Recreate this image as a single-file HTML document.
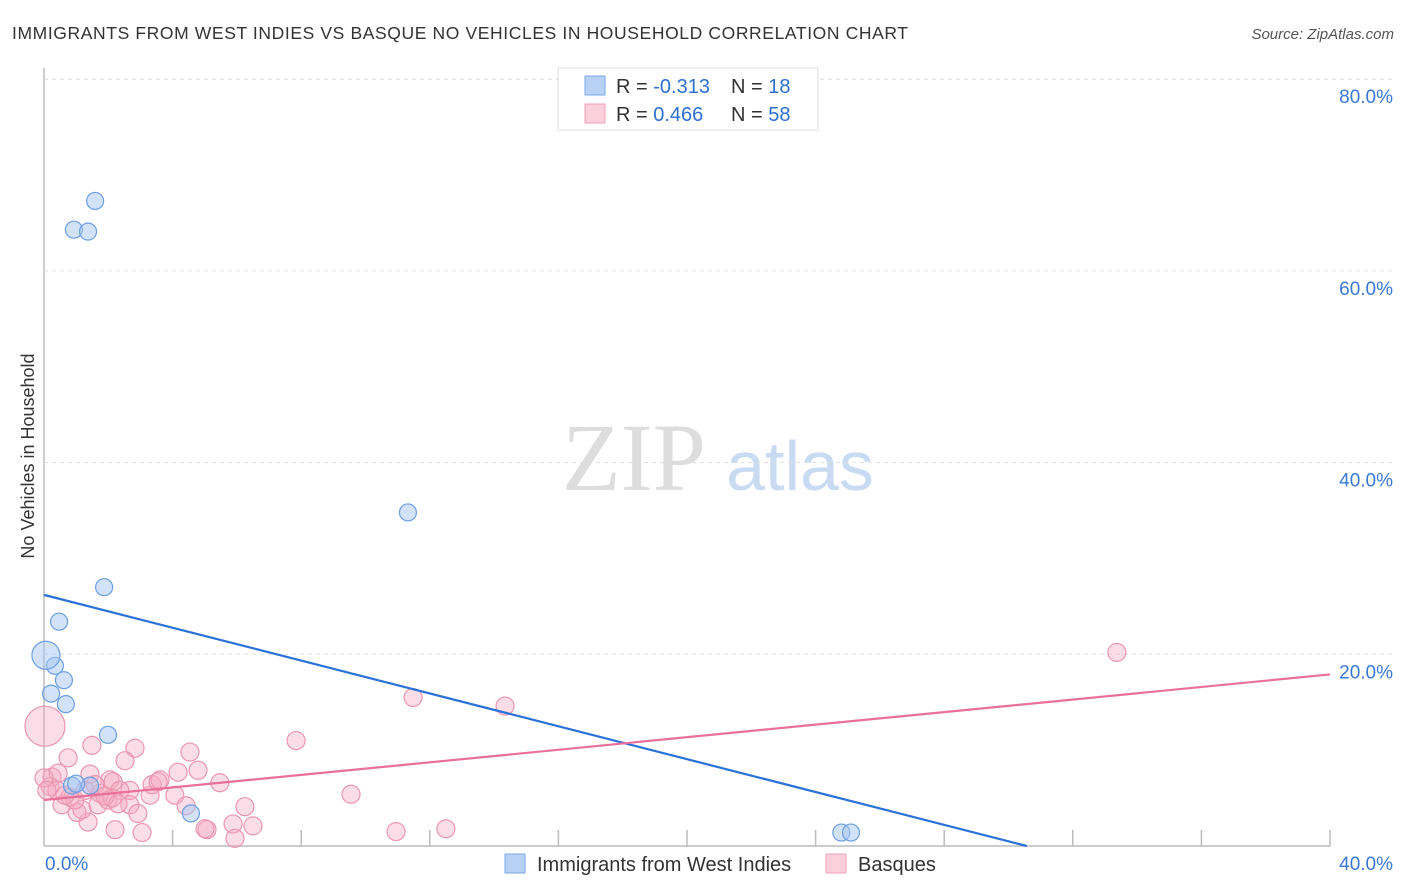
<!DOCTYPE html>
<html><head><meta charset="utf-8"><style>
body{margin:0;background:#fff;font-family:"Liberation Sans",sans-serif;}
#wrap{position:relative;width:1406px;height:892px;overflow:hidden}
</style></head><body>
<div id="wrap">
<svg id="svg" width="1406" height="892" xmlns="http://www.w3.org/2000/svg">
<text x="12" y="39" font-size="17.5" fill="#333" textLength="896" lengthAdjust="spacing">IMMIGRANTS FROM WEST INDIES VS BASQUE NO VEHICLES IN HOUSEHOLD CORRELATION CHART</text>
<text x="1394" y="39" font-size="15" fill="#555" font-style="italic" text-anchor="end">Source: ZipAtlas.com</text>
<text x="34" y="456" font-size="18" fill="#333" text-anchor="middle" transform="rotate(-90 34 456)">No Vehicles in Household</text>
<text x="634" y="490" font-size="96" fill="#ddd" font-family="Liberation Serif,serif" text-anchor="middle">ZIP</text>
<text x="800" y="490" font-size="70" fill="#c9dbf3" text-anchor="middle">atlas</text>
<g id="grid"></g><g id="marks"></g><g id="lines"></g>
<g>
<rect x="558" y="68" width="260" height="62" fill="#fff" stroke="#ddd"/>
<rect x="585" y="76" width="20" height="19" fill="#b8d2f5" stroke="#7aaae8"/>
<rect x="585" y="104" width="20" height="19" fill="#fccfdc" stroke="#eea0b8"/>
<text x="616" y="93" font-size="20" fill="#333">R = <tspan fill="#2f6fd0">-0.313</tspan></text>
<text x="731" y="93" font-size="20" fill="#333">N = <tspan fill="#2f6fd0"> 18</tspan></text>
<text x="616" y="121" font-size="20" fill="#333">R = <tspan fill="#2f6fd0"> 0.466</tspan></text>
<text x="731" y="121" font-size="20" fill="#333">N = <tspan fill="#2f6fd0">58</tspan></text>
</g>
<g>
<rect x="505" y="854" width="20" height="19" fill="#b8d2f5" stroke="#7aaae8"/>
<text x="537" y="871" font-size="20" fill="#333">Immigrants from West Indies</text>
<rect x="826" y="854" width="20" height="19" fill="#fccfdc" stroke="#eea0b8"/>
<text x="858" y="871" font-size="20" fill="#333">Basques</text>
</g>
</svg></div>
<script>
const yTicks=[20,40,60,80];
const xTickLabels=["0.0%","40.0%"];
const blueX=[1.59,0.93,1.37,11.32,1.87,0.47,0.34,0.62,0.22,0.68,1.99,0.87,1.43,1.0,4.57,24.8,25.1,0.06];
const blueY=[67.3,64.3,64.1,34.8,27.0,23.4,18.8,17.3,15.9,14.8,11.6,6.3,6.3,6.5,3.4,1.4,1.4,19.9];
const pinkX=[1.49,2.83,2.52,0.75,0.25,0.44,1.43,2.05,2.15,2.67,3.30,3.36,3.61,4.07,4.54,4.79,5.47,6.25,5.88,6.50,5.94,5.07,5.01,3.05,2.21,1.37,1.03,1.18,1.68,1.99,2.67,2.92,0.56,0.19,0.40,0.81,1.74,2.36,7.84,11.48,14.34,33.37,9.55,10.95,12.50,4.42,3.55,4.17,0.0,0.09,2.12,0.96,0.65,1.28,1.59,1.9,2.3,0.03];
const pinkY=[10.5,10.2,8.9,9.2,7.2,7.6,7.5,6.9,6.7,5.8,5.3,6.4,6.9,5.3,9.8,7.9,6.6,4.1,2.3,2.1,0.8,1.7,1.8,1.4,1.7,2.5,3.5,3.8,4.3,4.8,4.3,3.4,4.3,6.2,5.8,5.1,5.5,5.8,11.0,15.5,14.6,20.2,5.4,1.5,1.8,4.2,6.7,7.7,7.1,5.8,5.0,4.8,5.3,5.8,6.4,5.2,4.4,12.5];
const blueTrend=[26.2,-0.857];
const pinkTrend=[4.8,0.3275];
const X=v=>44+v*32.15, Y=v=>846-v*9.585;
const NS="http://www.w3.org/2000/svg";
function mk(tag,attrs,parent){const e=document.createElementNS(NS,tag);for(const k in attrs)e.setAttribute(k,attrs[k]);document.getElementById(parent).appendChild(e);return e;}
let a=mk('line',{x1:44,y1:68,x2:44,y2:846,stroke:'#bbb','stroke-width':1.5},'grid');


a=mk('line',{x1:44,y1:846,x2:1330,y2:846,stroke:'#bbb','stroke-width':1.5},'grid');


for(let i=1;i<=10;i++){const t=mk('line',{x1:X(i*4),y1:830,x2:X(i*4),y2:846,stroke:'#bbb','stroke-width':1.5},'grid');

}
yTicks.forEach(v=>{const g=mk('line',{x1:44,y1:Y(v),x2:1394,y2:Y(v),stroke:'#ddd','stroke-dasharray':'4,4'},'grid');


const t=mk('text',{x:1393,y:Y(v)+24,'font-size':19,fill:'#3a78d4','text-anchor':'end'},'grid');t.textContent=v.toFixed(1)+'%';

});
let xl=mk('text',{x:45,y:870,'font-size':19,fill:'#3a78d4'},'grid');xl.textContent=xTickLabels[0];


xl=mk('text',{x:1393,y:870,'font-size':19,fill:'#3a78d4','text-anchor':'end'},'grid');xl.textContent=xTickLabels[1];


pinkX.forEach((x,i)=>{const r=i==pinkX.length-1?20:9;const c=mk('circle',{cx:X(x),cy:Y(pinkY[i]),r:r,fill:'rgba(246,170,196,0.4)',stroke:'#eb97b1','stroke-width':1.2},'marks');

});
blueX.forEach((x,i)=>{const r=i==blueX.length-1?14:8.5;const c=mk('circle',{cx:X(x),cy:Y(blueY[i]),r:r,fill:'rgba(165,198,242,0.5)',stroke:'#6c9fe2','stroke-width':1.2},'marks');

});
const bEnd=-blueTrend[0]/blueTrend[1];
let l=mk('line',{x1:X(0),y1:Y(blueTrend[0]),x2:X(bEnd),y2:Y(0),stroke:'#2a72d8','stroke-width':2.2},'lines');


l=mk('line',{x1:X(0),y1:Y(pinkTrend[0]),x2:X(40),y2:Y(pinkTrend[0]+pinkTrend[1]*40),stroke:'#e8709a','stroke-width':2.2},'lines');


</script></body></html>
